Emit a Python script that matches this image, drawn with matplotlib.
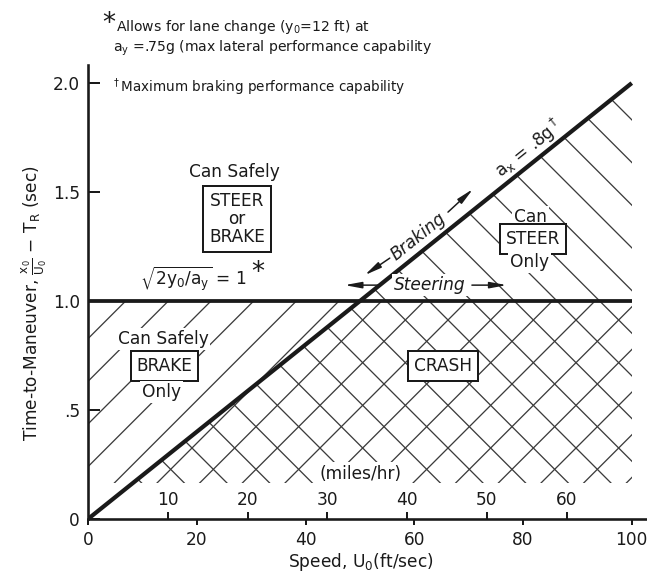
import numpy as np
import matplotlib
matplotlib.use('Agg')
import matplotlib.pyplot as plt
from matplotlib.patches import Polygon

# ---------------- data ----------------
speed_ft_s = [0, 100]            # speed range, ft/sec
braking_time = [0, 2.0]          # a_x = .8g boundary (sec)
steering_time = 1.0              # sqrt(2 y0 / a_y) = 1 sec
x_ticks = [0, 20, 40, 60, 80, 100]
x_tick_labels = ['0', '20', '40', '60', '80', '100']
y_ticks = [0, 0.5, 1.0, 1.5, 2.0]
y_tick_labels = ['0', '.5', '1.0', '1.5', '2.0']
mph_ticks = [10, 20, 30, 40, 50, 60]
mph_tick_labels = ['10', '20', '30', '40', '50', '60']
FT_S_PER_MPH = 5280 / 3600

# ---------------- style ----------------
DPI = 256
P = 72 / DPI          # points per pixel
INK = '#1a1a1a'
HATCH_INK = '#3c3c3c'
HATCH_BOTTOM = 0.165

plt.rcParams['font.family'] = ['DejaVu Sans']
plt.rcParams['mathtext.fontset'] = 'dejavusans'
plt.rcParams['hatch.linewidth'] = 1.3 * P

fig = plt.figure(figsize=(647 / DPI, 572 / DPI), dpi=DPI)
ax = fig.add_axes([88 / 647, 53 / 572, 559 / 647, 454 / 572])
ax.set_xlim(0, 102.8)
ax.set_ylim(0, 2.083)

# hatched regions
x0, x1 = speed_ft_s
brake_region = Polygon([(x0, HATCH_BOTTOM), (x1, HATCH_BOTTOM),
                        (x1, steering_time), (x0, steering_time)],
                       closed=True, fill=False, hatch='//', edgecolor=HATCH_INK,
                       linewidth=0, zorder=1)
x_start = np.interp(HATCH_BOTTOM, braking_time, speed_ft_s)
steer_region = Polygon([(x_start, HATCH_BOTTOM), (x1, HATCH_BOTTOM),
                        (x1, braking_time[1])],
                       closed=True, fill=False, hatch='\\\\', edgecolor=HATCH_INK,
                       linewidth=0, zorder=1)
ax.add_patch(brake_region)
ax.add_patch(steer_region)

# boundary lines
ax.plot(speed_ft_s, braking_time, color=INK, lw=4.2 * P, solid_capstyle='butt', zorder=2)
ax.plot(speed_ft_s, [steering_time] * 2, color=INK, lw=3.8 * P, solid_capstyle='butt', zorder=2)

# axes styling
for s in ['top', 'right']:
    ax.spines[s].set_visible(False)
for s in ['left', 'bottom']:
    ax.spines[s].set_linewidth(2.6 * P)
    ax.spines[s].set_color(INK)

ax.set_xticks(x_ticks, x_tick_labels)
ax.set_yticks(y_ticks, y_tick_labels)
ax.tick_params(axis='x', direction='out', length=6 * P, width=2 * P, pad=6 * P,
               labelsize=17 * P, colors=INK)
ax.tick_params(axis='y', direction='in', length=12 * P, width=2 * P, pad=8 * P,
               labelsize=17 * P, colors=INK)

# secondary mph scale drawn inside, above the speed axis
sec = ax.secondary_xaxis(0, functions=(lambda v: v / FT_S_PER_MPH,
                                       lambda m: m * FT_S_PER_MPH))
sec.set_alignment('top')
sec.spines['top'].set_visible(False)
sec.set_xticks(mph_ticks, mph_tick_labels)
sec.tick_params(direction='out', length=7 * P, width=2 * P, pad=3 * P,
                labelsize=17 * P, colors=INK)

FS = 17 * P
ax.text(50.2, 0.206, '(miles/hr)', ha='center', va='center', fontsize=FS, color=INK,
        bbox=dict(fc='white', ec='none', pad=3 * P), zorder=3)

ax.set_xlabel(r'Speed, U$_\mathrm{0}$(ft/sec)', fontsize=FS, color=INK)
ax.xaxis.set_label_coords(0.488, -0.07)
ax.set_ylabel(r'Time-to-Maneuver, $\frac{\mathrm{x}_0}{\mathrm{U}_0}$ $-$ T$_\mathrm{R}$ (sec)',
              fontsize=17 * P, color=INK)
ax.yaxis.set_label_coords(-0.069, 0.476)

# footnotes
ax.text(2.6, 2.27, '*', fontsize=26 * P, ha='left', va='center', color=INK, clip_on=False)
ax.text(5.2, 2.257, r'Allows for lane change (y$_\mathrm{0}$=12 ft) at', fontsize=14 * P,
        ha='left', va='center', color=INK, clip_on=False)
ax.text(4.6, 2.16, r'a$_\mathrm{y}$ =.75g (max lateral performance capability', fontsize=14 * P,
        ha='left', va='center', color=INK, clip_on=False)
ax.text(4.4, 1.98, r'$^\dagger$Maximum braking performance capability', fontsize=13.6 * P,
        ha='left', va='center', color=INK, clip_on=False)

# region labels
white = dict(fc='white', ec='none', pad=2 * P)
boxed = dict(boxstyle='square,pad=0.35', fc='white', ec=INK, lw=2 * P)

ax.text(27.0, 1.592, 'Can Safely', fontsize=FS, ha='center', va='center', color=INK)
ax.text(27.4, 1.376, 'STEER\nor\nBRAKE', fontsize=FS, ha='center', va='center',
        multialignment='center', linespacing=1.0, color=INK, bbox=boxed)
ax.text(19.4, 1.10, r'$\sqrt{2\mathrm{y}_0/\mathrm{a}_\mathrm{y}}$ = 1', fontsize=FS,
        ha='center', va='center', color=INK)
ax.text(30.0, 1.13, '*', fontsize=26 * P, ha='left', va='center', color=INK)

ax.text(13.8, 0.826, 'Can Safely', fontsize=FS, ha='center', va='center', color=INK, bbox=white)
ax.text(14.06, 0.704, 'BRAKE', fontsize=FS, ha='center', va='center', color=INK, bbox=boxed)
ax.text(13.5, 0.583, 'Only', fontsize=FS, ha='center', va='center', color=INK, bbox=white)

ax.text(65.3, 0.704, 'CRASH', fontsize=FS, ha='center', va='center', color=INK, bbox=boxed)

ax.text(81.4, 1.385, 'Can', fontsize=FS, ha='center', va='center', color=INK, bbox=white)
ax.text(81.9, 1.284, 'STEER', fontsize=FS, ha='center', va='center', color=INK, bbox=boxed)
ax.text(81.25, 1.179, 'Only', fontsize=FS, ha='center', va='center', color=INK, bbox=white)

# along-line annotations
line_angle = np.degrees(np.arctan2(braking_time[1] - braking_time[0],
                                   speed_ft_s[1] - speed_ft_s[0]))
ax.text(60.75, 1.296, 'Braking', fontsize=FS, style='italic', ha='center', va='center',
        rotation=line_angle, transform_rotates_text=True, rotation_mode='anchor', color=INK,
        bbox=white)
ax.text(81.1, 1.70, r'a$_\mathrm{x}$ = .8g$^\dagger$', fontsize=FS, ha='center', va='center',
        rotation=line_angle, transform_rotates_text=True, rotation_mode='anchor', color=INK)
ax.text(62.9, 1.073, 'Steering', fontsize=FS, style='italic', ha='center', va='center',
        color=INK, bbox=white)

arrow = dict(arrowstyle='-|>,head_length=14,head_width=2.6', lw=1.5 * P, color=INK,
             mutation_scale=P, shrinkA=0, shrinkB=0)
for tail, head in [((53.5, 1.073), (47.2, 1.073)), ((70.6, 1.073), (77.0, 1.073)),
                   ((55.5, 1.197), (50.9, 1.119)), ((66.2, 1.408), (70.8, 1.514))]:
    ax.annotate('', xy=head, xytext=tail, arrowprops=arrow)

fig.savefig('out.png', dpi=DPI, facecolor='white')
